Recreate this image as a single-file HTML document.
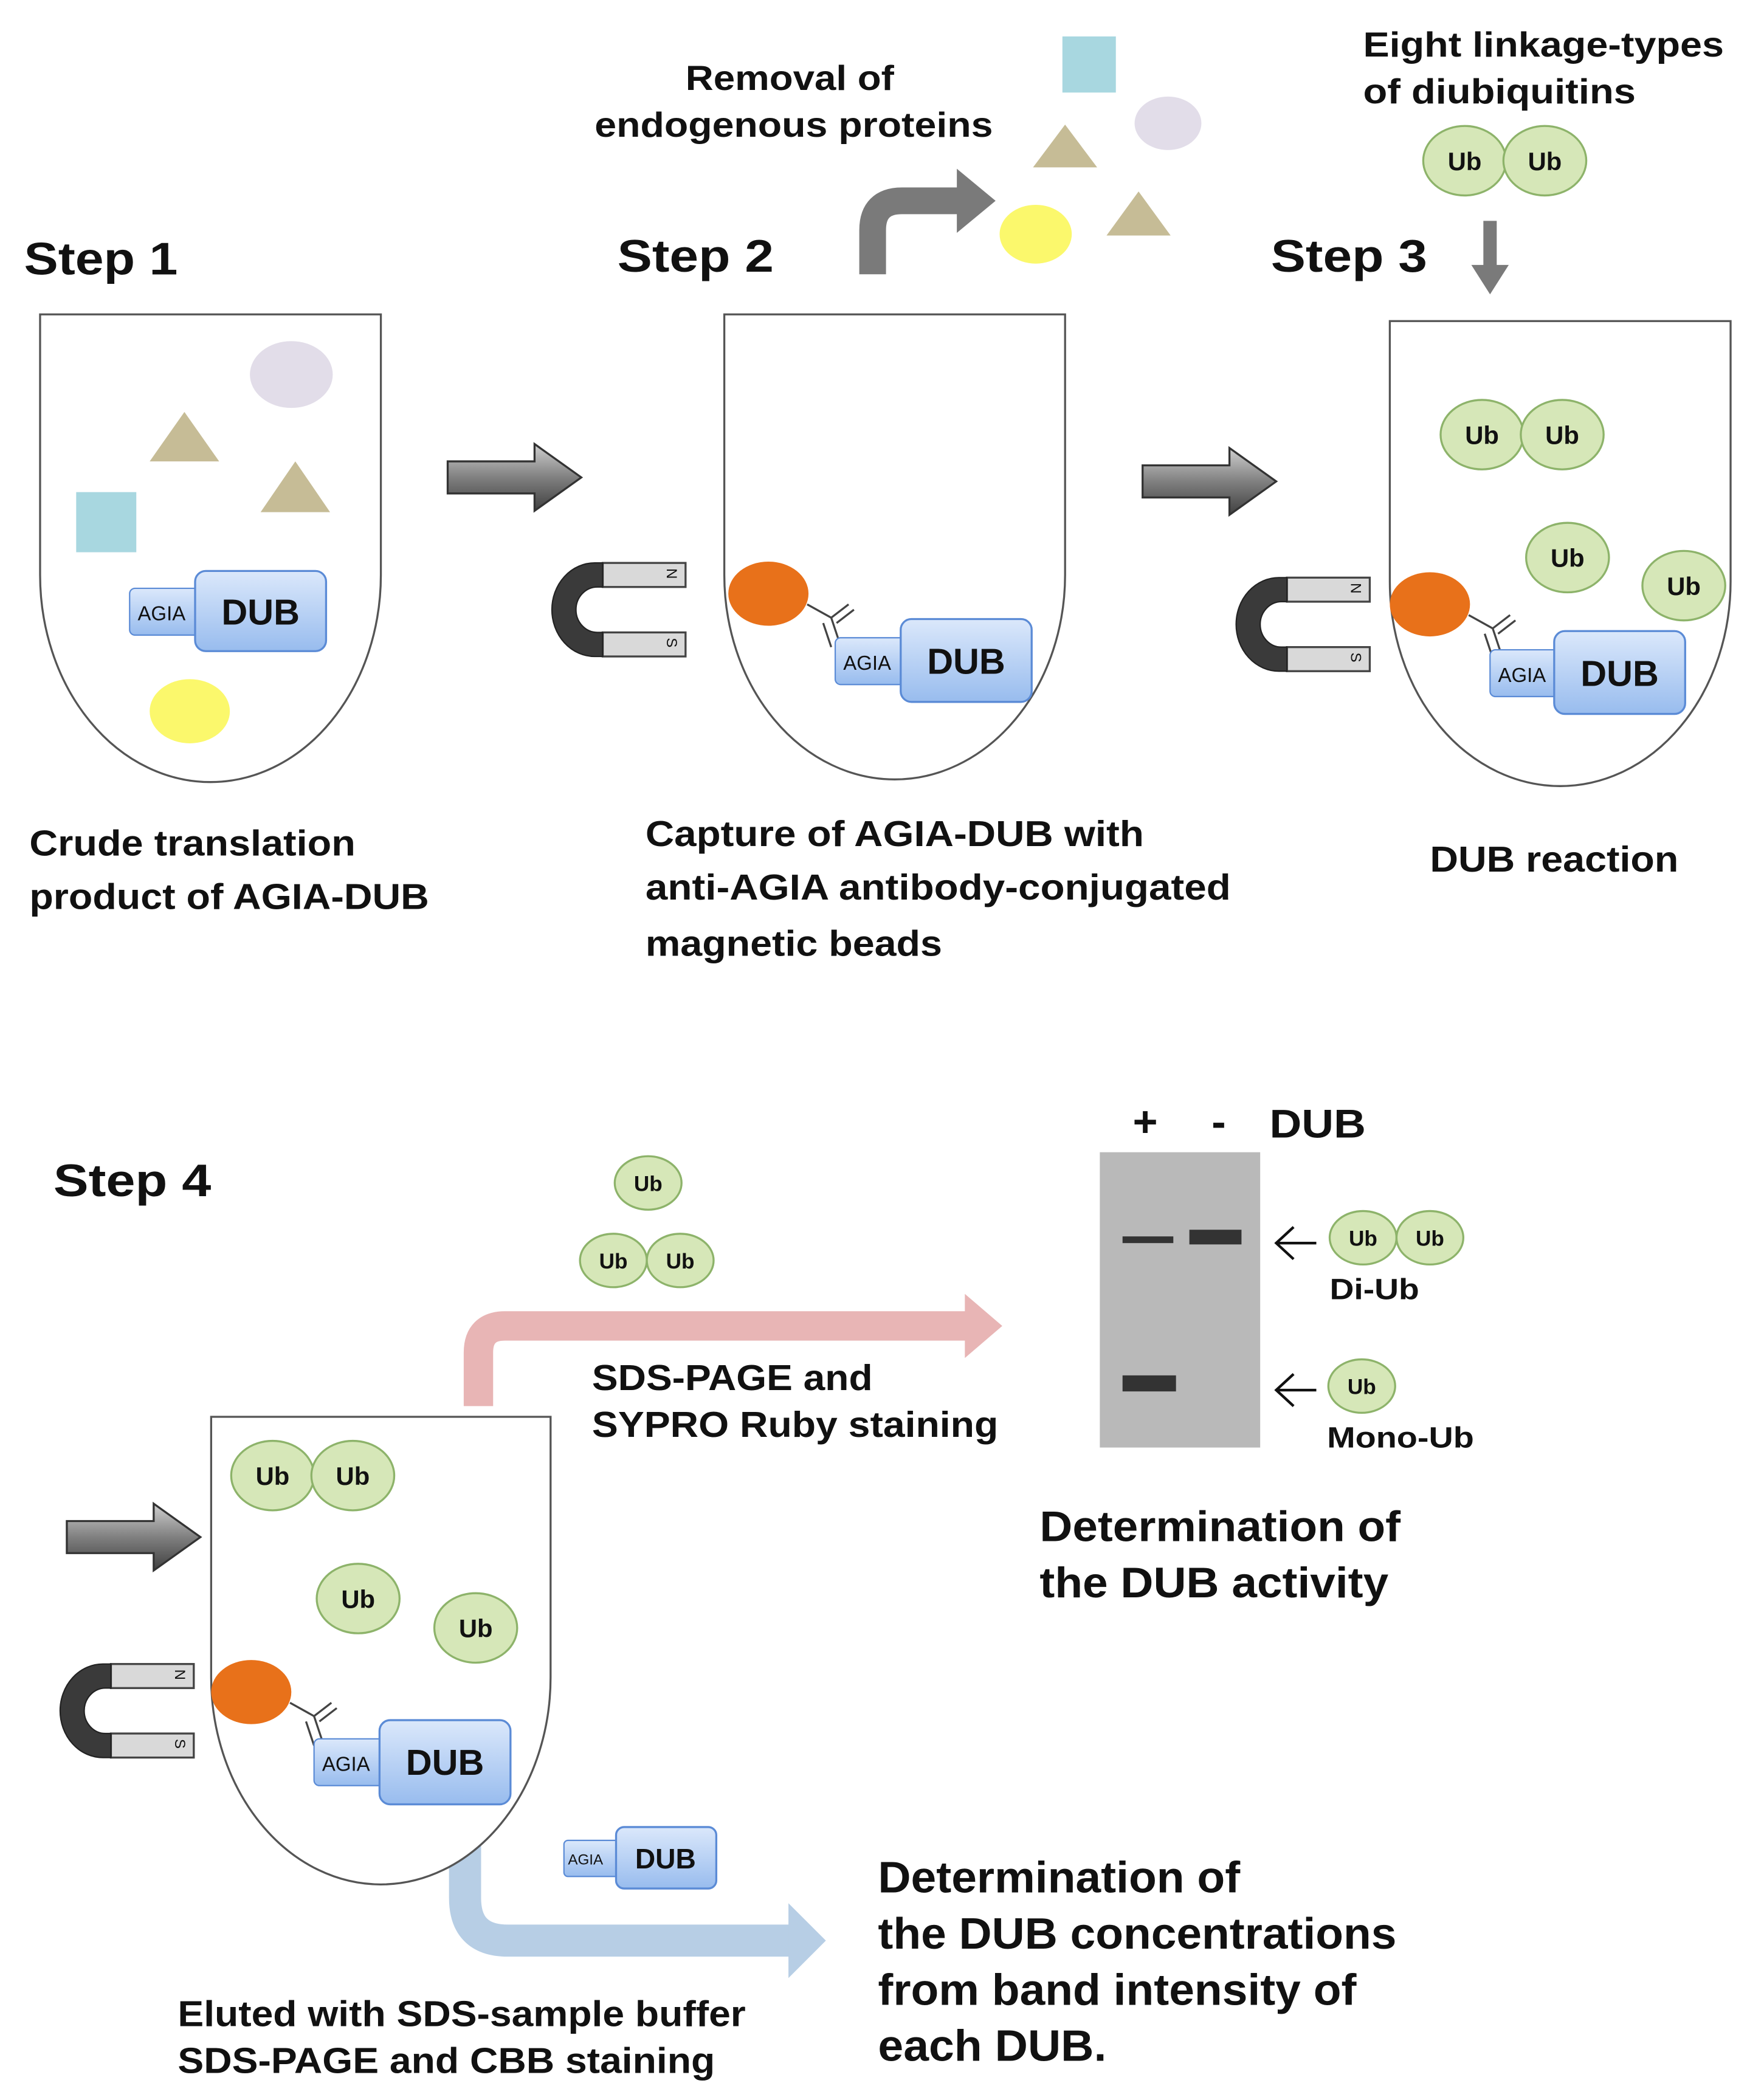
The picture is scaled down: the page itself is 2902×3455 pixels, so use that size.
<!DOCTYPE html>
<html><head><meta charset="utf-8"><style>
html,body{margin:0;padding:0;background:#fff}
svg{display:block}
text{font-family:"Liberation Sans",sans-serif;font-weight:bold;fill:#111}
</style></head><body>
<svg width="2902" height="3455" viewBox="0 0 1320 1571" xmlns="http://www.w3.org/2000/svg">
<defs>
<linearGradient id="dub" x1="0" y1="0" x2="0" y2="1"><stop offset="0" stop-color="#dbe8fb"/><stop offset="1" stop-color="#98bcee"/></linearGradient>
<linearGradient id="ga" x1="0" y1="0" x2="0" y2="1"><stop offset="0" stop-color="#d0d0d0"/><stop offset="0.5" stop-color="#808080"/><stop offset="1" stop-color="#404040"/></linearGradient>
<g id="mag">
<rect x="38" y="0" width="62" height="18" fill="#d9d9d9" stroke="#444" stroke-width="1.5"/>
<rect x="38" y="52" width="62" height="18" fill="#d9d9d9" stroke="#444" stroke-width="1.5"/>
<path d="M38,0 H32 A32,35 0 0 0 32,70 H38 V52 H34 A16,17 0 0 1 34,18 H38 Z" fill="#3a3a3a" stroke="#222"/>
<text x="0" y="0" font-size="11" transform="translate(86,4) rotate(90)" style="font-weight:normal">N</text>
<text x="0" y="0" font-size="11" transform="translate(86,56) rotate(90)" style="font-weight:normal">S</text>
</g>
<g id="arr"><path d="M0,-12 H65 V-25 L100,0 L65,25 V12 H0 Z" fill="url(#ga)" stroke="#333" stroke-width="1.5"/></g>
</defs>

<!-- Step labels -->
<text x="18" y="205" font-size="34" textLength="115" lengthAdjust="spacingAndGlyphs">Step 1</text>
<text x="462" y="203" font-size="34" textLength="117" lengthAdjust="spacingAndGlyphs">Step 2</text>
<text x="951" y="203" font-size="34" textLength="117" lengthAdjust="spacingAndGlyphs">Step 3</text>
<text x="40" y="895" font-size="34" textLength="118" lengthAdjust="spacingAndGlyphs">Step 4</text>

<!-- Tube 1 -->
<path d="M30,235 V430 A127.5,155 0 0 0 285,430 V235 Z" fill="#fff" stroke="#555" stroke-width="1.5"/>
<ellipse cx="218" cy="280" rx="31" ry="25" fill="#e2dde9"/>
<polygon points="138,308 112,345 164,345" fill="#c6bc96"/>
<polygon points="221,345 195,383 247,383" fill="#c6bc96"/>
<rect x="57" y="368" width="45" height="45" fill="#a8d7e0"/>
<rect x="97" y="440" width="56" height="35" rx="4" fill="url(#dub)" stroke="#5b8bd6"/>
<text x="103" y="464" font-size="15" style="font-weight:normal">AGIA</text>
<rect x="146" y="427" width="98" height="60" rx="8" fill="url(#dub)" stroke="#5b8bd6" stroke-width="1.5"/>
<text x="195" y="467" font-size="27" text-anchor="middle">DUB</text>
<ellipse cx="142" cy="532" rx="30" ry="24" fill="#fbf86c"/>
<text x="22" y="640" font-size="27" textLength="244" lengthAdjust="spacingAndGlyphs">Crude translation</text>
<text x="22" y="680" font-size="27" textLength="299" lengthAdjust="spacingAndGlyphs">product of AGIA-DUB</text>

<use href="#arr" transform="translate(335,357)"/>
<use href="#mag" transform="translate(413,421)"/>

<!-- Tube 2 -->
<path d="M542,235 V430 A127.5,153 0 0 0 797,430 V235 Z" fill="#fff" stroke="#555" stroke-width="1.5"/>
<ellipse cx="575" cy="444" rx="30" ry="24" fill="#e8711a"/>
<path d="M604,452 L622,462 L628,480 M622,462 L635,452 M626,466 L639,456 M616,466 L622,484" stroke="#444" stroke-width="1.5" fill="none"/>
<rect x="625" y="477" width="56" height="35" rx="4" fill="url(#dub)" stroke="#5b8bd6"/>
<text x="631" y="501" font-size="15" style="font-weight:normal">AGIA</text>
<rect x="674" y="463" width="98" height="62" rx="8" fill="url(#dub)" stroke="#5b8bd6" stroke-width="1.5"/>
<text x="723" y="504" font-size="27" text-anchor="middle">DUB</text>
<path d="M653,205 V172 Q653,150 675,150 H718" stroke="#7a7a7a" stroke-width="20" fill="none"/>
<polygon points="716,126 745,150 716,174" fill="#7a7a7a"/>
<text x="513" y="67" font-size="26" textLength="156" lengthAdjust="spacingAndGlyphs">Removal of</text>
<text x="445" y="102" font-size="26" textLength="298" lengthAdjust="spacingAndGlyphs">endogenous proteins</text>
<rect x="795" y="27" width="40" height="42" fill="#a8d7e0"/>
<ellipse cx="874" cy="92" rx="25" ry="20" fill="#e2dde9"/>
<polygon points="797,93 773,125 821,125" fill="#c6bc96"/>
<polygon points="852,143 828,176 876,176" fill="#c6bc96"/>
<ellipse cx="775" cy="175" rx="27" ry="22" fill="#fbf86c"/>
<text x="483" y="633" font-size="27" textLength="373" lengthAdjust="spacingAndGlyphs">Capture of AGIA-DUB with</text>
<text x="483" y="673" font-size="27" textLength="438" lengthAdjust="spacingAndGlyphs">anti-AGIA antibody-conjugated</text>
<text x="483" y="715" font-size="27" textLength="222" lengthAdjust="spacingAndGlyphs">magnetic beads</text>

<use href="#arr" transform="translate(855,360)"/>
<use href="#mag" transform="translate(925,432)"/>

<!-- Step 3 -->
<text x="1020" y="42" font-size="26" textLength="270" lengthAdjust="spacingAndGlyphs">Eight linkage-types</text>
<text x="1020" y="77" font-size="26" textLength="204" lengthAdjust="spacingAndGlyphs">of diubiquitins</text>
<g font-size="19">
<ellipse cx="1096" cy="120" rx="31" ry="26" fill="#d6e7b8" stroke="#8db36a" stroke-width="1.5"/><text x="1096" y="127" text-anchor="middle">Ub</text>
<ellipse cx="1156" cy="120" rx="31" ry="26" fill="#d6e7b8" stroke="#8db36a" stroke-width="1.5"/><text x="1156" y="127" text-anchor="middle">Ub</text>
</g>
<path d="M1115,165 V200" stroke="#7a7a7a" stroke-width="10"/>
<polygon points="1101,198 1129,198 1115,220" fill="#7a7a7a"/>
<path d="M1040,240 V435 A127.5,153 0 0 0 1295,435 V240 Z" fill="#fff" stroke="#555" stroke-width="1.5"/>
<g font-size="19">
<ellipse cx="1109" cy="325" rx="31" ry="26" fill="#d6e7b8" stroke="#8db36a" stroke-width="1.5"/><text x="1109" y="332" text-anchor="middle">Ub</text>
<ellipse cx="1169" cy="325" rx="31" ry="26" fill="#d6e7b8" stroke="#8db36a" stroke-width="1.5"/><text x="1169" y="332" text-anchor="middle">Ub</text>
<ellipse cx="1173" cy="417" rx="31" ry="26" fill="#d6e7b8" stroke="#8db36a" stroke-width="1.5"/><text x="1173" y="424" text-anchor="middle">Ub</text>
<ellipse cx="1260" cy="438" rx="31" ry="26" fill="#d6e7b8" stroke="#8db36a" stroke-width="1.5"/><text x="1260" y="445" text-anchor="middle">Ub</text>
</g>
<ellipse cx="1070" cy="452" rx="30" ry="24" fill="#e8711a"/>
<path d="M1099,460 L1117,470 L1123,488 M1117,470 L1130,460 M1121,474 L1134,464 M1111,474 L1117,492" stroke="#444" stroke-width="1.5" fill="none"/>
<rect x="1115" y="486" width="56" height="35" rx="4" fill="url(#dub)" stroke="#5b8bd6"/>
<text x="1121" y="510" font-size="15" style="font-weight:normal">AGIA</text>
<rect x="1163" y="472" width="98" height="62" rx="8" fill="url(#dub)" stroke="#5b8bd6" stroke-width="1.5"/>
<text x="1212" y="513" font-size="27" text-anchor="middle">DUB</text>
<text x="1070" y="652" font-size="27" textLength="186" lengthAdjust="spacingAndGlyphs">DUB reaction</text>

<!-- Step 4 -->
<use href="#arr" transform="translate(50,1150)"/>
<use href="#mag" transform="translate(45,1245)"/>
<path d="M358,1052 V1012 Q358,992 378,992 H725" stroke="#e8b5b5" stroke-width="22" fill="none"/>
<polygon points="722,968 750,992 722,1016" fill="#e8b5b5"/>
<path d="M348,1368 V1420 Q348,1452 380,1452 H592" stroke="#b7cee5" stroke-width="24" fill="none"/>
<polygon points="590,1424 618,1452 590,1480" fill="#b7cee5"/>
<path d="M158,1060 V1255 A127,155 0 0 0 412,1255 V1060 Z" fill="#fff" stroke="#555" stroke-width="1.5"/>
<g font-size="19">
<ellipse cx="204" cy="1104" rx="31" ry="26" fill="#d6e7b8" stroke="#8db36a" stroke-width="1.5"/><text x="204" y="1111" text-anchor="middle">Ub</text>
<ellipse cx="264" cy="1104" rx="31" ry="26" fill="#d6e7b8" stroke="#8db36a" stroke-width="1.5"/><text x="264" y="1111" text-anchor="middle">Ub</text>
<ellipse cx="268" cy="1196" rx="31" ry="26" fill="#d6e7b8" stroke="#8db36a" stroke-width="1.5"/><text x="268" y="1203" text-anchor="middle">Ub</text>
<ellipse cx="356" cy="1218" rx="31" ry="26" fill="#d6e7b8" stroke="#8db36a" stroke-width="1.5"/><text x="356" y="1225" text-anchor="middle">Ub</text>
</g>
<ellipse cx="188" cy="1266" rx="30" ry="24" fill="#e8711a"/>
<path d="M217,1274 L235,1284 L241,1302 M235,1284 L248,1274 M239,1288 L252,1278 M229,1288 L235,1306" stroke="#444" stroke-width="1.5" fill="none"/>
<rect x="235" y="1301" width="56" height="35" rx="4" fill="url(#dub)" stroke="#5b8bd6"/>
<text x="241" y="1325" font-size="15" style="font-weight:normal">AGIA</text>
<rect x="284" y="1287" width="98" height="63" rx="8" fill="url(#dub)" stroke="#5b8bd6" stroke-width="1.5"/>
<text x="333" y="1328" font-size="27" text-anchor="middle">DUB</text>

<g font-size="16">
<ellipse cx="485" cy="885" rx="25" ry="20" fill="#d6e7b8" stroke="#8db36a" stroke-width="1.5"/><text x="485" y="891" text-anchor="middle">Ub</text>
<ellipse cx="459" cy="943" rx="25" ry="20" fill="#d6e7b8" stroke="#8db36a" stroke-width="1.5"/><text x="459" y="949" text-anchor="middle">Ub</text>
<ellipse cx="509" cy="943" rx="25" ry="20" fill="#d6e7b8" stroke="#8db36a" stroke-width="1.5"/><text x="509" y="949" text-anchor="middle">Ub</text>
</g>
<text x="443" y="1040" font-size="27" textLength="210" lengthAdjust="spacingAndGlyphs">SDS-PAGE and</text>
<text x="443" y="1075" font-size="27" textLength="304" lengthAdjust="spacingAndGlyphs">SYPRO Ruby staining</text>

<!-- Gel -->
<text x="857" y="850" font-size="32" text-anchor="middle">+</text>
<text x="912" y="850" font-size="32" text-anchor="middle">-</text>
<text x="950" y="851" font-size="30" textLength="72" lengthAdjust="spacingAndGlyphs">DUB</text>
<rect x="823" y="862" width="120" height="221" fill="#b9b9b9"/>
<rect x="840" y="925" width="38" height="5" fill="#333"/>
<rect x="890" y="920" width="39" height="11" fill="#333"/>
<rect x="840" y="1029" width="40" height="12" fill="#333"/>
<path d="M985,930 H955 M968,918 L955,930 L968,942" stroke="#111" stroke-width="2" fill="none"/>
<path d="M985,1040 H955 M968,1028 L955,1040 L968,1052" stroke="#111" stroke-width="2" fill="none"/>
<g font-size="16">
<ellipse cx="1020" cy="926" rx="25" ry="20" fill="#d6e7b8" stroke="#8db36a" stroke-width="1.5"/><text x="1020" y="932" text-anchor="middle">Ub</text>
<ellipse cx="1070" cy="926" rx="25" ry="20" fill="#d6e7b8" stroke="#8db36a" stroke-width="1.5"/><text x="1070" y="932" text-anchor="middle">Ub</text>
<ellipse cx="1019" cy="1037" rx="25" ry="20" fill="#d6e7b8" stroke="#8db36a" stroke-width="1.5"/><text x="1019" y="1043" text-anchor="middle">Ub</text>
</g>
<text x="995" y="972" font-size="22" textLength="67" lengthAdjust="spacingAndGlyphs">Di-Ub</text>
<text x="993" y="1083" font-size="22" textLength="110" lengthAdjust="spacingAndGlyphs">Mono-Ub</text>
<text x="778" y="1153" font-size="32" textLength="270" lengthAdjust="spacingAndGlyphs">Determination of</text>
<text x="778" y="1195" font-size="32" textLength="261" lengthAdjust="spacingAndGlyphs">the DUB activity</text>

<rect x="422" y="1377" width="42" height="27" rx="3" fill="url(#dub)" stroke="#5b8bd6"/>
<text x="425" y="1395" font-size="11" style="font-weight:normal">AGIA</text>
<rect x="461" y="1367" width="75" height="46" rx="6" fill="url(#dub)" stroke="#5b8bd6" stroke-width="1.5"/>
<text x="498" y="1398" font-size="21" text-anchor="middle">DUB</text>

<text x="133" y="1516" font-size="27" textLength="425" lengthAdjust="spacingAndGlyphs">Eluted with SDS-sample buffer</text>
<text x="133" y="1551" font-size="27" textLength="402" lengthAdjust="spacingAndGlyphs">SDS-PAGE and CBB staining</text>
<text x="657" y="1416" font-size="33" textLength="271" lengthAdjust="spacingAndGlyphs">Determination of</text>
<text x="657" y="1458" font-size="33" textLength="388" lengthAdjust="spacingAndGlyphs">the DUB concentrations</text>
<text x="657" y="1500" font-size="33" textLength="358" lengthAdjust="spacingAndGlyphs">from band intensity of</text>
<text x="657" y="1542" font-size="33" textLength="171" lengthAdjust="spacingAndGlyphs">each DUB.</text>
</svg>
</body></html>
